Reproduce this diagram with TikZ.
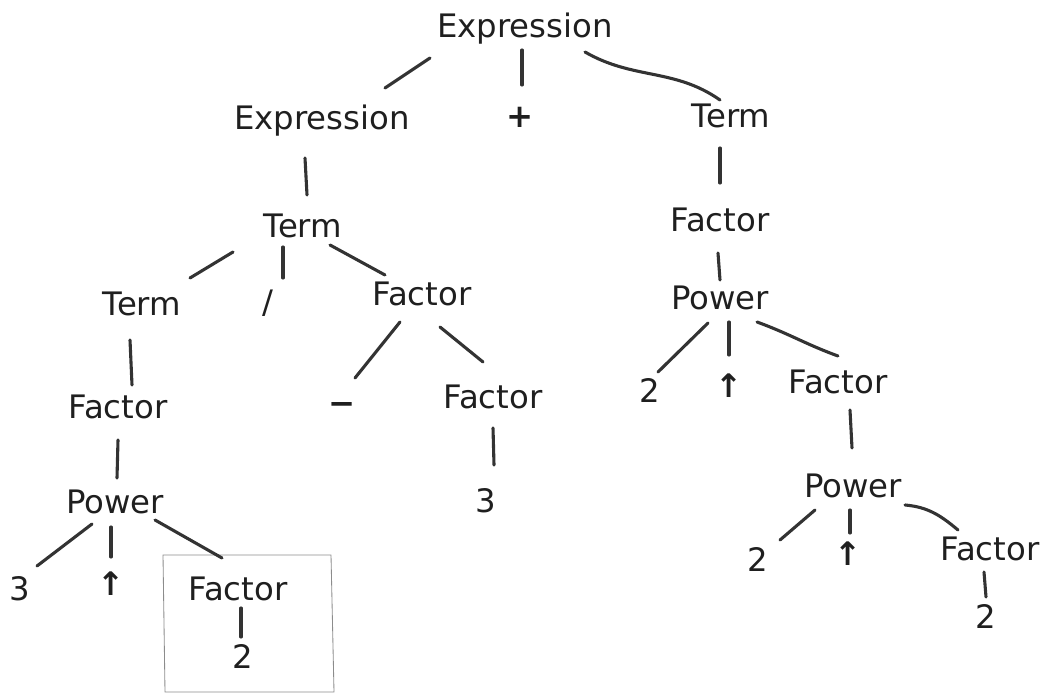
\documentclass[tikz,border=0pt]{standalone}
\usepackage{fontspec}
\newfontfamily\handfont{DejaVu Sans}
\newcommand\cn[4]{\draw[link] ([shift={(#2)}]#1.base) -- ([shift={(#4)}]#3.base);}
\newcommand\cnc[6]{\draw[link] ([shift={(#2)}]#1.base) to[out=#5,in=#6] ([shift={(#4)}]#3.base);}
\begin{document}
\begin{tikzpicture}[x=0.025cm,y=-0.025cm,
  lab/.style={anchor=base,inner sep=0pt,text=black!88,font=\handfont\fontsize{23}{27}\selectfont},
  sym/.style={lab,font=\handfont\bfseries\fontsize{23}{27}\selectfont},
  link/.style={draw=black!80,line width=2.2pt,line cap=round},
  frame/.style={draw=black!45,line width=0.6pt}]
\useasboundingbox (0,0) rectangle (1044,694);
% nodes
\node[lab] (e0) at (525,38) {Expression};
\node[lab] (e1) at (322,130) {Expression};
\node[sym] (plus) at (520,128) {+};
\node[lab] (t0) at (731,128) {Term};
\node[lab] (t1) at (303,238) {Term};
\node[lab] (f0) at (720,232) {Factor};
\node[lab] (t2) at (142,316) {Term};
\node[lab] (slash) at (268,314) {/};
\node[lab] (f1) at (422,306) {Factor};
\node[lab] (p0) at (720,310) {Power};
\node[lab] (f2) at (118,418) {Factor};
\node[sym] (minus) at (342,414) {−};
\node[lab] (f3) at (493,408) {Factor};
\node[lab] (two1) at (650,402) {2};
\node[sym] (up1) at (729,397) {↑};
\node[lab] (f4) at (838,393) {Factor};
\node[lab] (p1) at (115,513) {Power};
\node[lab] (three1) at (486,512) {3};
\node[lab] (p2) at (853,497) {Power};
\node[lab] (three2) at (20,600) {3};
\node[sym] (up2) at (111,595) {↑};
\node[lab] (f5) at (238,600) {Factor};
\node[lab] (two2) at (243,668) {2};
\node[lab] (two3) at (758,571) {2};
\node[sym] (up3) at (848,565) {↑};
\node[lab] (f6) at (990,560) {Factor};
\node[lab] (two4) at (986,628) {2};
% box
\draw[frame] (165,692) -- (163,555) -- (331,555) -- (334,692) -- cycle;
% connectors
\cn{e0}{-95,20}{e1}{63,-42}
\cn{e0}{-3,12}{plus}{2,-43}
\cnc{e0}{60,14}{t0}{-11,-28}{-30}{145}
\cn{e1}{-17,28}{t1}{4,-43}
\cn{t0}{-11,20}{f0}{0,-49}
\cn{t1}{-70,14}{t2}{48,-38}
\cn{t1}{-20,9}{slash}{15,-36}
\cn{t1}{27,7}{f1}{-37,-31}
\cn{f0}{-2,21}{p0}{0,-30}
\cn{t2}{-12,24}{f2}{14,-33}
\cn{f1}{-22,16}{minus}{13,-36}
\cn{f1}{18,21}{f3}{-10,-46}
\cn{p0}{-12,13}{two1}{8,-30}
\cn{p0}{9,12}{up1}{0,-42}
\cnc{p0}{37,12}{f4}{0,-37}{-20}{160}
\cn{f2}{0,22}{p1}{2,-35}
\cn{f3}{0,20}{three1}{8,-47}
\cn{f4}{12,17}{p2}{-1,-49}
\cn{p1}{-23,11}{three2}{17,-34}
\cn{p1}{-4,14}{up2}{0,-38}
\cn{p1}{40,7}{f5}{-16,-42}
\cn{p2}{-38,13}{two3}{22,-31}
\cn{p2}{-3,13}{up3}{2,-32}
\cnc{p2}{52,8}{f6}{-32,-30}{-5}{140}
\cn{f5}{3,8}{two2}{-2,-31}
\cn{f6}{-6,12}{two4}{0,-31}
\end{tikzpicture}
\end{document}
